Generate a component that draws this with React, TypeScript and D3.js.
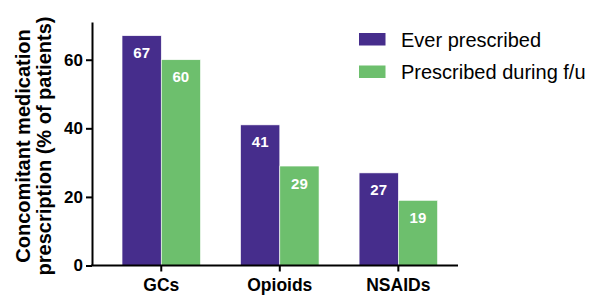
import React, { useEffect, useRef } from 'react'
import * as d3 from 'd3';

const width = 590;
const height = 295;

const categories = ["GCs", "Opioids", "NSAIDs"];
const seriesNames = ["Ever prescribed", "Prescribed during f/u"];
const everPrescribed = [67, 41, 27];
const duringFollowUp = [60, 29, 19];
const yTicks = [0, 20, 40, 60];
const colors = ["#462d8c", "#6dbf6d"];

const font = "'Liberation Sans', Arial, sans-serif";

export default function App() {
  const ref = useRef<SVGSVGElement | null>(null);

  useEffect(() => {
    const svg = d3.select(ref.current);
    svg.selectAll("*").remove();

    const yAxisX = 92;
    const baseY = 265.5;

    const x = d3.scaleBand<string>()
      .domain(categories)
      .range([102, 457.6])
      .paddingInner(0.338)
      .paddingOuter(0.169);

    const xInner = d3.scaleBand<string>()
      .domain(seriesNames)
      .range([0, x.bandwidth()]);

    const y = d3.scaleLinear()
      .domain([0, 71])
      .range([baseY, 22]);

    const rows = categories.map((c, i) => ({
      cat: c,
      values: [everPrescribed[i], duringFollowUp[i]],
    }));

    // bars
    const groups = svg.append("g")
      .selectAll("g")
      .data(rows)
      .enter().append("g")
      .attr("transform", (d) => "translate(" + x(d.cat) + ",0)");

    groups.selectAll("rect")
      .data((d) => d.values.map((v, j) => ({ v, s: seriesNames[j], j })))
      .enter().append("rect")
      .attr("x", (d) => xInner(d.s)!)
      .attr("y", (d) => y(d.v))
      .attr("width", xInner.bandwidth())
      .attr("height", (d) => y(0) - y(d.v))
      .attr("fill", (d) => colors[d.j])
      .attr("stroke", "#ffffff")
      .attr("stroke-width", 0.6);

    groups.selectAll("text")
      .data((d) => d.values.map((v, j) => ({ v, s: seriesNames[j] })))
      .enter().append("text")
      .attr("x", (d) => xInner(d.s)! + xInner.bandwidth() / 2)
      .attr("y", (d) => y(d.v) + 22.5)
      .attr("text-anchor", "middle")
      .attr("fill", "#ffffff")
      .style("font-family", font)
      .style("font-weight", "bold")
      .style("font-size", "15px")
      .text((d) => d.v);

    // y axis
    const yAxis = svg.append("g")
      .attr("transform", "translate(" + yAxisX + ",0)")
      .call(d3.axisLeft(y).tickValues(yTicks).tickSize(6).tickPadding(3).tickSizeOuter(0));
    yAxis.select(".domain").attr("stroke", "#000").attr("stroke-width", 2);
    yAxis.selectAll(".tick line").attr("stroke", "#000").attr("stroke-width", 2);
    yAxis.selectAll(".tick text")
      .attr("fill", "#000")
      .style("font-family", font)
      .style("font-weight", "bold")
      .style("font-size", "17px");

    // x axis
    svg.append("line")
      .attr("x1", yAxisX - 1)
      .attr("x2", 458)
      .attr("y1", baseY)
      .attr("y2", baseY)
      .attr("stroke", "#000")
      .attr("stroke-width", 2);

    svg.append("g")
      .selectAll("line")
      .data(categories)
      .enter().append("line")
      .attr("x1", (d) => x(d)! + x.bandwidth() / 2)
      .attr("x2", (d) => x(d)! + x.bandwidth() / 2)
      .attr("y1", baseY)
      .attr("y2", baseY + 6)
      .attr("stroke", "#000")
      .attr("stroke-width", 2);

    svg.append("g")
      .selectAll("text")
      .data(categories)
      .enter().append("text")
      .attr("x", (d) => x(d)! + x.bandwidth() / 2)
      .attr("y", 290.5)
      .attr("text-anchor", "middle")
      .attr("fill", "#000")
      .style("font-family", font)
      .style("font-weight", "bold")
      .style("font-size", "17.5px")
      .text((d) => d);

    // y title
    const title = svg.append("text")
      .attr("transform", "translate(30,146)rotate(-90)")
      .attr("text-anchor", "middle")
      .attr("fill", "#000")
      .style("font-family", font)
      .style("font-weight", "bold")
      .style("font-size", "20px");
    title.append("tspan").attr("x", 0).attr("y", 0).text("Concomitant medication");
    title.append("tspan").attr("x", 0).attr("y", 21).text("prescription (% of patients)");

    // legend
    const legend = svg.append("g")
      .selectAll("g")
      .data(seriesNames)
      .enter().append("g")
      .attr("transform", (_, i) => "translate(359," + (33 + i * 32.5) + ")");
    legend.append("rect")
      .attr("width", 26.5)
      .attr("height", 12.5)
      .attr("fill", (_, i) => colors[i]);
    legend.append("text")
      .attr("x", 42)
      .attr("y", 13.5)
      .attr("fill", "#000")
      .style("font-family", font)
      .style("font-size", "20px")
      .text((d) => d);
  }, []);

  return (
    <svg ref={ref} width={width} height={height}
      style={{ position: "absolute", left: 0, top: 0, background: "#fff" }} />
  );
}
